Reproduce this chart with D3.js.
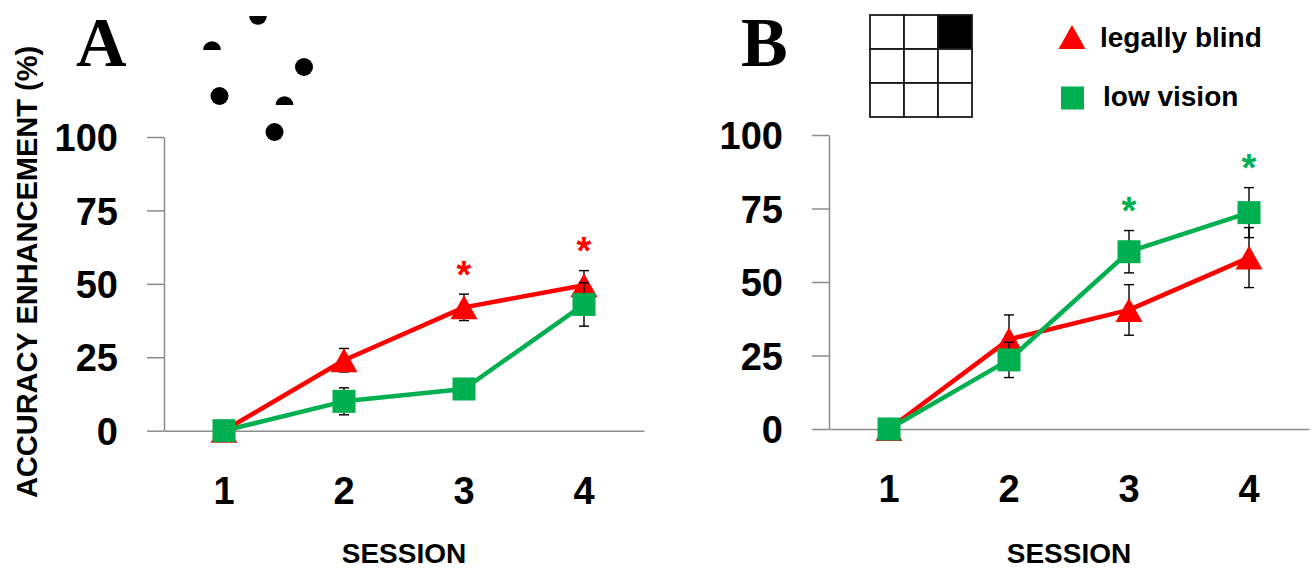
<!DOCTYPE html>
<html>
<head>
<meta charset="utf-8">
<script src="https://cdn.jsdelivr.net/npm/d3@7"></script>
<style>
  html, body { margin: 0; padding: 0; background: #fff; }
  svg { display: block; }
</style>
</head>
<body>
<svg id="chart" width="1316" height="570"></svg>
<script>
// ---- data ----
const sessions = [1, 2, 3, 4];
const yTicks = [0, 25, 50, 75, 100];

// Panel A
const blindA = [0, 24, 42, 49.5];
const blindAErr = [0, 4, 4.5, 5];
const lowA = [0, 10, 14.2, 43];
const lowAErr = [0, 4.6, 2, 7.4];
const sigA = [3, 4];           // sessions marked significant (legally blind)

// Panel B
const blindB = [0, 30.5, 40.5, 58.3];
const blindBErr = [0, 8.3, 8.6, 10.2];
const lowB = [0, 23.5, 60.3, 73.6];
const lowBErr = [0, 6, 7.2, 8.5];
const sigB = [3, 4];           // sessions marked significant (low vision)

const seriesNames = ["legally blind", "low vision"];
const RED = "#ff0000", GREEN = "#00b050", AXIS = "#8c8c8c";

const svg = d3.select("#chart");

// ---- marker shapes ----
function triangle(g, cx, cy) {
  const w = 27, h = 24;
  g.append("path")
    .attr("d", `M${cx},${cy - h / 2}L${cx + w / 2},${cy + h / 2}L${cx - w / 2},${cy + h / 2}Z`)
    .attr("fill", RED);
}
function square(g, cx, cy) {
  const s = 23;
  g.append("rect").attr("x", cx - s / 2).attr("y", cy - s / 2)
    .attr("width", s).attr("height", s).attr("fill", GREEN);
}

function panel(opts) {
  const g = svg.append("g");
  const x = d3.scaleBand().domain(sessions).range([opts.x0, opts.x0 + 480]).padding(0);
  const y = d3.scaleLinear().domain([0, 100]).range([opts.y0, opts.y100]);
  const cx = d => x(d) + x.bandwidth() / 2;

  // y axis
  const yAxis = g.append("g").attr("transform", `translate(${opts.x0},0)`)
    .call(d3.axisLeft(y).tickValues(yTicks).tickSize(17).tickSizeOuter(0).tickPadding(29));
  yAxis.select(".domain").attr("stroke", AXIS).attr("stroke-width", 1.5);
  yAxis.selectAll(".tick line").attr("stroke", AXIS).attr("stroke-width", 1.5);
  yAxis.selectAll(".tick text")
    .attr("font-family", "'Liberation Sans', Arial, sans-serif")
    .attr("font-weight", "bold").attr("font-size", 38).attr("fill", "#000")
    .attr("dy", "0.36em");

  // x axis
  const xAxis = g.append("g").attr("transform", `translate(0,${opts.y0})`)
    .call(d3.axisBottom(x).tickSize(0).tickPadding(46));
  xAxis.select(".domain").attr("stroke", AXIS).attr("stroke-width", 1.5);
  xAxis.selectAll(".tick text")
    .attr("font-family", "'Liberation Sans', Arial, sans-serif")
    .attr("font-weight", "bold").attr("font-size", 38).attr("fill", "#000")
    .attr("dy", "0.71em");

  // axis title
  g.append("text").attr("x", opts.x0 + 240).attr("y", 563)
    .attr("text-anchor", "middle")
    .attr("font-family", "'Liberation Sans', Arial, sans-serif")
    .attr("font-weight", "bold").attr("font-size", 28).text("SESSION");

  // panel letter
  g.append("text").attr("x", opts.letterX).attr("y", 66)
    .attr("font-family", "'Liberation Serif', 'Times New Roman', serif")
    .attr("font-weight", "bold").attr("font-size", 70).text(opts.letter);

  const line = d3.line().x((d, i) => cx(sessions[i])).y(d => y(d));

  function series(vals, errs, color, marker) {
    const s = g.append("g");
    s.append("path").datum(vals).attr("d", line)
      .attr("fill", "none").attr("stroke", color).attr("stroke-width", 4.5)
      .attr("stroke-linejoin", "round");
    // error bars
    vals.forEach((v, i) => {
      if (!errs[i]) return;
      const xx = cx(sessions[i]);
      const top = y(v + errs[i]), bot = y(v - errs[i]);
      s.append("line").attr("x1", xx).attr("x2", xx).attr("y1", top).attr("y2", bot)
        .attr("stroke", "#000").attr("stroke-width", 1.4);
      [top, bot].forEach(yy => s.append("line")
        .attr("x1", xx - 5).attr("x2", xx + 5).attr("y1", yy).attr("y2", yy)
        .attr("stroke", "#000").attr("stroke-width", 1.4));
    });
    vals.forEach((v, i) => marker(s, cx(sessions[i]), y(v)));
  }
  series(opts.blind, opts.blindErr, RED, triangle);
  series(opts.low, opts.lowErr, GREEN, square);

  // significance asterisks
  opts.sig.forEach(sess => {
    const i = sessions.indexOf(sess);
    const v = opts.sigVals[i] + opts.sigErrs[i] + 9;
    g.append("text").attr("x", cx(sess)).attr("y", y(v) + 20)
      .attr("text-anchor", "middle")
      .attr("font-family", "'Liberation Sans', Arial, sans-serif")
      .attr("font-weight", "bold").attr("font-size", 38)
      .attr("fill", opts.sigColor).text("*");
  });
  return g;
}

panel({ x0: 164, y0: 430.7, y100: 137, letter: "A", letterX: 76,
  blind: blindA, blindErr: blindAErr, low: lowA, lowErr: lowAErr,
  sig: sigA, sigVals: blindA, sigErrs: blindAErr, sigColor: RED });
panel({ x0: 829, y0: 429, y100: 135, letter: "B", letterX: 741,
  blind: blindB, blindErr: blindBErr, low: lowB, lowErr: lowBErr,
  sig: sigB, sigVals: lowB, sigErrs: lowBErr, sigColor: GREEN });

// shared y-axis title
svg.append("text").attr("transform", "translate(37,272) rotate(-90)")
  .attr("text-anchor", "middle")
  .attr("font-family", "'Liberation Sans', Arial, sans-serif")
  .attr("font-weight", "bold").attr("font-size", 29)
  .text("ACCURACY ENHANCEMENT (%)");

// stimulus icon for panel A: dots, some partly hidden
const dots = [
  { x: 258, y: 16, r: 8.8, clip: "top" },
  { x: 212, y: 50, r: 8.8, clip: "bottom" },
  { x: 304, y: 67, r: 9 },
  { x: 219.5, y: 96, r: 9 },
  { x: 284.5, y: 105, r: 8.8, clip: "bottom" },
  { x: 274.5, y: 132, r: 9 }
];
const defs = svg.append("defs");
dots.forEach((d, i) => {
  let clipId = null;
  if (d.clip) {
    clipId = "dotclip" + i;
    const cp = defs.append("clipPath").attr("id", clipId);
    if (d.clip === "top") cp.append("rect").attr("x", d.x - 12).attr("y", d.y).attr("width", 24).attr("height", 12);
    else cp.append("rect").attr("x", d.x - 12).attr("y", d.y - 12).attr("width", 24).attr("height", 12);
  }
  const c = svg.append("circle").attr("cx", d.x).attr("cy", d.y).attr("r", d.r).attr("fill", "#000");
  if (clipId) c.attr("clip-path", `url(#${clipId})`);
});

// stimulus icon for panel B: 3x3 grid with the top-right cell filled
const gridCells = d3.cross([0, 1, 2], [0, 1, 2]);
const cell = 34, gx = 870, gy = 15;
svg.append("g").selectAll("rect").data(gridCells).join("rect")
  .attr("x", d => gx + d[1] * cell).attr("y", d => gy + d[0] * cell)
  .attr("width", cell).attr("height", cell)
  .attr("fill", d => (d[0] === 0 && d[1] === 2) ? "#000" : "#fff")
  .attr("stroke", "#1a1a1a").attr("stroke-width", 1.8);

// legend
const legend = svg.append("g");
triangle(legend, 1072, 37);
square(legend, 1072.5, 98);
legend.selectAll("text").data(seriesNames).join("text")
  .attr("x", (d, i) => i === 0 ? 1100 : 1103)
  .attr("y", (d, i) => i === 0 ? 47 : 106)
  .attr("font-family", "'Liberation Sans', Arial, sans-serif")
  .attr("font-weight", "bold").attr("font-size", 28)
  .text(d => d);
</script>
</body>
</html>
